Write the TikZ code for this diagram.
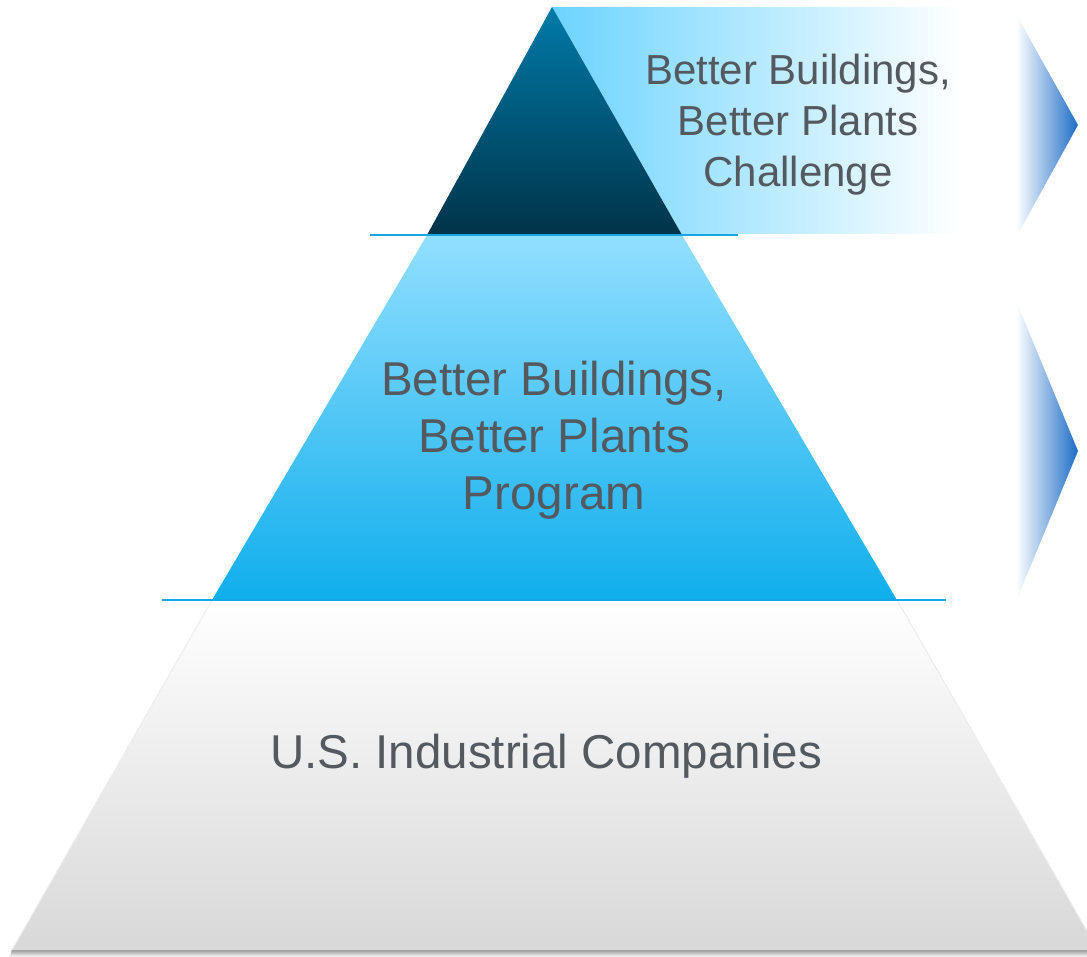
\documentclass[tikz,border=0pt]{standalone}
\usepackage{fontspec}
\setmainfont{Liberation Sans}
\usepackage{tikz}
\usepackage{xcolor}

\definecolor{tipblue}{RGB}{28,109,198}
\definecolor{bandcyan}{RGB}{108,211,255}
\definecolor{peaktop}{RGB}{1,122,169}
\definecolor{peakbot}{RGB}{0,51,72}
\definecolor{midtop}{RGB}{146,223,255}
\definecolor{midbot}{RGB}{16,174,236}
\definecolor{basebot}{RGB}{216,216,216}
\definecolor{rulecyan}{RGB}{22,166,227}
\definecolor{labelgray}{RGB}{84,89,95}

\begin{document}
\begin{tikzpicture}[x=1pt, y=-1pt,
    tierlabel/.style={text=labelgray, align=center, inner sep=0pt},
    tierrule/.style={rulecyan, line width=2pt}]
        \useasboundingbox (0,0) rectangle (1087,957);
        \clip (0,0) rectangle (1087,957);

        % Pyramid corners
        \coordinate (apex) at (552,7);
        \coordinate (topL) at (427,235);
        \coordinate (topR) at (682,235);
        \coordinate (midL) at (212,600);
        \coordinate (midR) at (897,600);
        \coordinate (baseL) at (12,950);
        \coordinate (baseR) at (1098,950);

        % Arrow bands (behind the pyramid)
        \begin{scope}
            \clip (552,7) -- (1012,7) -- (1078,125) -- (1018,234) -- (552,234) -- cycle;
            \shade[left color=bandcyan, right color=white] (552,7) rectangle (960,234);
            \fill[white] (960,7) rectangle (1016,234);
            \shade[left color=white, right color=tipblue] (1016,7) rectangle (1078,234);
        \end{scope}
        \begin{scope}
            \clip (600,281) -- (1008,281) -- (1078,451) -- (1008,621) -- (600,621) -- cycle;
            \shade[left color=white, right color=tipblue] (1016,281) rectangle (1078,621);
        \end{scope}

        % Bottom tier with its shadow
        \shade[top color=black!45, bottom color=white] (12,949) -- (1098,949) -- (1100,957) -- (10,957) -- cycle;
        \shade[top color=white, bottom color=basebot] (midL) -- (midR) -- (baseR) -- (baseL) -- cycle;
        \draw[black!7, line width=1pt] (midL) -- (baseL) (midR) -- (baseR);

        % Middle tier and peak
        \shade[top color=midtop, bottom color=midbot] (topL) -- (topR) -- (midR) -- (midL) -- cycle;
        \shade[top color=peaktop, bottom color=peakbot] (apex) -- (topR) -- (topL) -- cycle;

        % Tier rules
        \draw[tierrule] (370,235) -- (738,235);
        \draw[tierrule] (162,600) -- (946,600);

        % Labels
        \node[tierlabel, font=\fontsize{42}{51}\selectfont] (challenge) at (798,125) {Better Buildings,\\Better Plants\\Challenge};
        \node[tierlabel, font=\fontsize{47.5}{57}\selectfont] (program) at (554,440) {Better Buildings,\\Better Plants\\Program};
        \node[tierlabel, font=\fontsize{47.5}{57}\selectfont, anchor=base] (companies) at (546,768) {U.S. Industrial Companies};
\end{tikzpicture}
\end{document}
